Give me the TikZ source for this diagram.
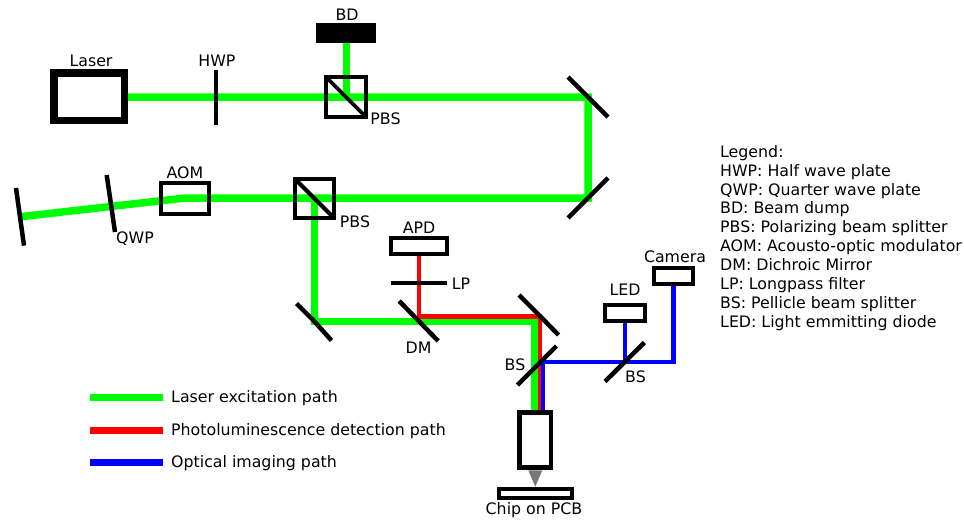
\documentclass[tikz,border=0pt]{standalone}
\usepackage{fontspec}
\setmainfont{DejaVu Sans}
\usetikzlibrary{backgrounds}
\definecolor{beamgreen}{RGB}{0,255,0}
\definecolor{beamred}{RGB}{255,0,0}
\definecolor{beamblue}{RGB}{0,0,255}
\definecolor{conegray}{RGB}{120,120,120}
\tikzset{
    box/.style={draw=black, line width=#1, inner sep=0pt, outer sep=0pt},
    box/.default=4pt,
    plate/.style={draw=black, line width=4.5pt},
    lbl/.style={inner sep=0pt, font=\fontsize{15.8}{18}\selectfont},
    greenbeam/.style={draw=beamgreen, line width=7.5pt},
    redbeam/.style={draw=beamred, line width=4.5pt},
    bluebeam/.style={draw=beamblue, line width=4.2pt},
}

\begin{document}
\begin{tikzpicture}[x=1pt, y=-1pt]
\useasboundingbox (0,0) rectangle (964,520);

% boxes
\node[box=7.5pt, minimum width=70.5pt, minimum height=47.5pt] (laser) at (89,96.7) {};
\node[box, fill=black, minimum width=56pt, minimum height=16pt] (dump) at (346,33) {};
\node[box=3.6pt, minimum width=40pt, minimum height=40pt] (pbsA) at (346,97) {};
\node[box=3.6pt, minimum width=48pt, minimum height=31.5pt] (aom) at (185,198.5) {};
\node[box=4pt, minimum width=39.5pt, minimum height=39.5pt] (pbsB) at (314.5,198.5) {};
\node[box, minimum width=55.5pt, minimum height=16.5pt] (apd) at (419,246) {};
\node[box, minimum width=40pt, minimum height=16pt] (led) at (624.7,313.3) {};
\node[box, minimum width=39.5pt, minimum height=15.7pt] (camera) at (673.5,275.8) {};
\node[box=4.6pt, minimum width=31.5pt, minimum height=55pt] (objective) at (535.3,440) {};
\node[box, minimum width=73.5pt, minimum height=9.5pt] (chip) at (535.3,493.3) {};

% beam corners and optics
\coordinate (hwp) at (216,97);
\coordinate (mirA) at (588,97);
\coordinate (mirB) at (588,198);
\coordinate (aomMid) at (185,198);
\coordinate (mirEnd) at (20,216.8);
\coordinate (mirC) at (314.5,321.5);
\coordinate (dm) at (418.7,321);
\coordinate (lp) at (419,283);
\coordinate (mirD) at (539,315);
\coordinate (bsA) at (537,365.5);
\coordinate (bsB) at (624.7,362);

% beams
\begin{scope}[on background layer]
\draw[greenbeam, line join=miter] (laser.east |- mirA) -- (mirA) -- (mirB) -- (aomMid) -- (mirEnd);
\draw[greenbeam, line width=7pt] (dump.south) -- (pbsA.center);
\draw[greenbeam, line join=miter] (pbsB.center) -- (mirC) -- (535,321.5) -- (objective.north -| 535,0);
\draw[redbeam, line join=miter] (apd.south) -- (lp) -- (419,316.5) -- (540,316.5) -- (objective.north -| 540,0);
\draw[bluebeam, line join=miter] (objective.north -| 543,0) -- (543,362) -- (673.5,362) -- (camera.south);
\draw[bluebeam] (led.south) -- (bsB);
\end{scope}

% cube diagonals
\draw[line width=3.6pt] (pbsA.north west) -- (pbsA.south east);
\draw[line width=4pt] (pbsB.north west) -- (pbsB.south east);

% plates and mirrors
\draw[plate] ([yshift=-28pt]hwp) -- ([yshift=27pt]hwp);
\draw[plate] ([xshift=-28pt]lp) -- ([xshift=28pt]lp);
\draw[plate] (106.7,175) -- (115,232);
\draw[plate] (16,188) -- (24,245.6);
\foreach \m/\dx/\dy in {mirA/20/20, mirA/-20/-20, mirB/20/-20, mirB/-20/20, mirC/-18/-18, mirC/17/19,
    dm/-19.5/-20, dm/19.5/20, mirD/-20/-20, mirD/19.5/20, bsA/19.5/-19.5, bsA/-19.5/19.5,
    bsB/19.7/-19.5, bsB/-19.7/19.5}
    \draw[plate] (\m) -- ([shift={(\dx,\dy)}]\m);

% objective tip
\fill[conegray] (528.3,470.3) -- (542.3,470.3) -- (535.3,486.7) -- cycle;

% labels
\node[lbl] (laserlbl) at (91,60.5) {Laser};
\node[lbl] (hwplbl) at (217,60.5) {HWP};
\node[lbl] (dumplbl) at (347,14.5) {BD};
\node[lbl] (pbsAlbl) at (385.5,118.5) {PBS};
\node[lbl] (aomlbl) at (185,172.5) {AOM};
\node[lbl] (qwplbl) at (135,239) {QWP};
\node[lbl] (pbsBlbl) at (355,221.5) {PBS};
\node[lbl] (apdlbl) at (419,227.5) {APD};
\node[lbl] (lplbl) at (461,284) {LP};
\node[lbl] (dmlbl) at (418.5,347.5) {DM};
\node[lbl] (bsAlbl) at (515,364.5) {BS};
\node[lbl] (bsBlbl) at (635.5,377) {BS};
\node[lbl] (ledlbl) at (625,290) {LED};
\node[lbl] (cameralbl) at (675,256.5) {Camera};
\node[lbl] (chiplbl) at (534,510.5) {Chip on PCB};

% path key
\coordinate (keyA) at (90,397);
\coordinate (keyB) at (90,430);
\coordinate (keyC) at (90,462);
\draw[beamgreen, line width=7pt] (keyA) -- ++(73,0);
\draw[beamred, line width=7pt] (keyB) -- ++(73,0);
\draw[beamblue, line width=7pt] (keyC) -- ++(73,0);
\node[lbl, anchor=west] (keyAlbl) at (171,398) {Laser excitation path};
\node[lbl, anchor=west] (keyBlbl) at (171,431.5) {Photoluminescence detection path};
\node[lbl, anchor=west] (keyClbl) at (171,463) {Optical imaging path};

% legend
\node[anchor=north west, inner sep=0pt, align=left, font=\fontsize{15.8}{18.9}\selectfont] (legend) at (720,145) {%
    Legend:\\
    HWP: Half wave plate\\
    QWP: Quarter wave plate\\
    BD: Beam dump\\
    PBS: Polarizing beam splitter\\
    AOM: Acousto-optic modulator\\
    DM: Dichroic Mirror\\
    LP: Longpass filter\\
    BS: Pellicle beam splitter\\
    LED: Light emmitting diode};
\end{tikzpicture}
\end{document}
